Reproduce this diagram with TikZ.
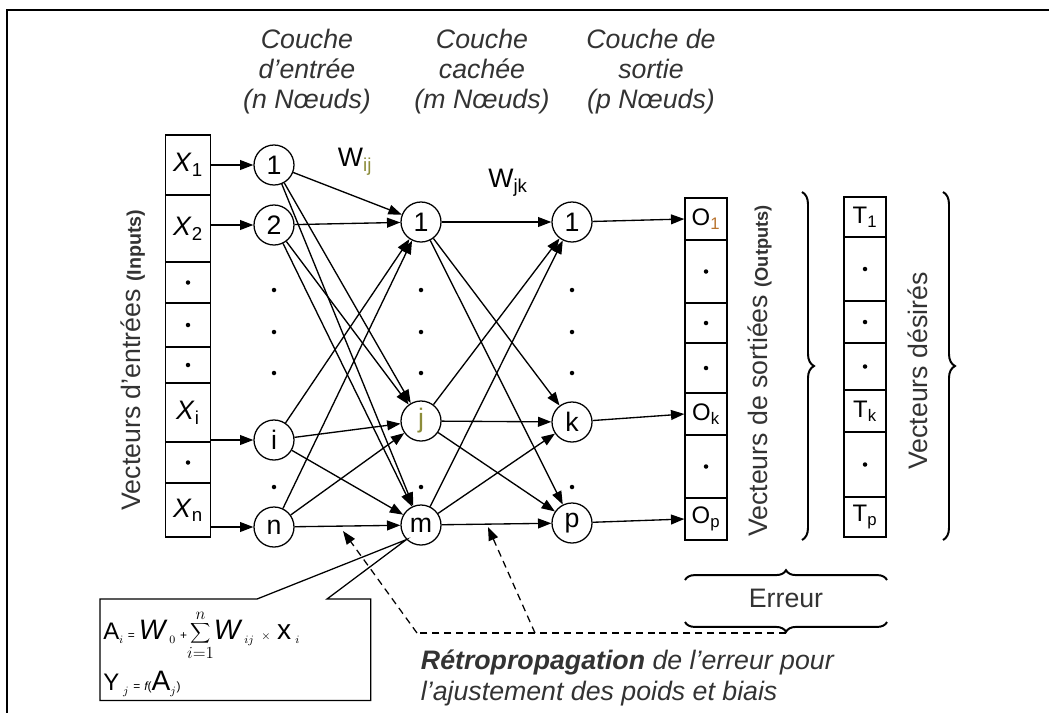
\documentclass[tikz,border=0pt]{standalone}
\usepackage{fontspec}
\setmainfont{Liberation Sans}
\usetikzlibrary{arrows.meta,positioning,calc,decorations.pathreplacing}
\definecolor{cHead}{HTML}{333333}
\definecolor{cOlive}{HTML}{8C8C3A}
\definecolor{cRust}{HTML}{B8732E}
\newcommand\bigfont{\fontsize{19}{22}\selectfont}
\newcommand\hdfont{\fontsize{19}{21.3}\selectfont}
\newcommand\cellfont{\fontsize{17}{20}\selectfont}
\newcommand\eqfont{\fontsize{17}{18}\selectfont}
\newcommand\eqbig[1]{{\fontsize{20}{20}\selectfont #1}}
\newcommand\eqsml[1]{{\fontsize{8.5}{9}\selectfont #1}}
\newcommand\eqsub[1]{$_{\scriptscriptstyle #1}$}
\tikzset{
  cell/.style={draw,line width=0.9pt,minimum width=#1,inner sep=0pt,font=\cellfont},
  neur/.style={circle,draw,line width=0.9pt,minimum size=1cm,inner sep=0pt,font=\bigfont},
  vdot/.style={circle,fill,inner sep=0pt,minimum size=3.2pt},
  arr/.style={-{Triangle[length=9.5pt,width=7pt]},line width=0.95pt},
  bdash/.style={line width=0.9pt,dash pattern=on 5pt off 3.5pt},
  hdr/.style={font=\hdfont\itshape,align=center,text=cHead},
  vlab/.style={rotate=90,font=\bigfont,text=cHead},
  brc/.style={decorate,decoration={brace,amplitude=#1},line width=1.4pt},
}

\begin{document}
\begin{tikzpicture}[x=0.025cm,y=-0.025cm]
  \useasboundingbox (0,0) rectangle (1049,713);
  % frame
  \draw[line width=1.6pt] (1049,10) -- (7,10) -- (7,713);

  % layer titles
  \node[hdr] (hIn) at (307,72) {Couche\\d’entrée\\(n Nœuds)};
  \node[hdr] (hHid) at (482,72) {Couche\\cachée\\(m Nœuds)};
  \node[hdr] (hOut) at (651,72) {Couche de\\sortie\\(p Nœuds)};

  % input vector
  \foreach \ya/\yb/\lab/\nm in {135/195/{\textit{X}\textsubscript{1}}/x1, 195/262/{\textit{X}\textsubscript{2}}/x2,
      262/303/{}/x3, 303/347/{}/x4, 347/383/{}/x5, 383/442/{\textit{X}\textsubscript{i}}/xi,
      442/483/{}/x7, 483/537/{\textit{X}\textsubscript{n}}/xn}
    \node[cell=1.125cm,font=\bigfont,minimum height={(\yb-\ya)*0.025cm}] (\nm) at (188,{(\ya+\yb)/2}) {\lab};
  % output vector
  \foreach \ya/\yb/\lab/\nm in {198/240/{O\textsubscript{\color{cRust}1}}/o1, 240/303/{}/o2, 303/343/{}/o3,
      343/393/{}/o4, 393/435/{O\textsubscript{k}}/ok, 435/498/{}/o6, 498/540/{O\textsubscript{p}}/op}
    \node[cell=1.05cm,minimum height={(\yb-\ya)*0.025cm}] (\nm) at (706,{(\ya+\yb)/2}) {\lab};
  % desired vector
  \foreach \ya/\yb/\lab/\nm in {197/237/{T\textsubscript{1}}/t1, 237/301/{}/t2, 301/343/{}/t3,
      343/390/{}/t4, 390/432/{T\textsubscript{k}}/tk, 432/497/{}/t6, 497/537/{T\textsubscript{p}}/tp}
    \node[cell=1.05cm,minimum height={(\yb-\ya)*0.025cm}] (\nm) at (865,{(\ya+\yb)/2}) {\lab};
  \foreach \c in {x3,x4,x5,x7,o2,o3,o4,o6,t2,t3,t4,t6}
    \node[vdot] (d\c) at (\c) {};

  % neurons
  \node[neur] (e1) at (274,165) {1};
  \node[neur] (e2) at (274,225) {2};
  \node[neur] (ei) at (274,440) {i};
  \node[neur] (en) at (274,527) {n};
  \node[neur] (h1) at (421,222) {1};
  \node[neur] (hj) at (421,421) {\color{cOlive}j};
  \node[neur] (hm) at (421,525) {m};
  \node[neur] (s1) at (572,222) {1};
  \node[neur] (sk) at (572,422) {k};
  \node[neur] (sp) at (572,523) {p};
  \foreach \xx in {274,421,572}
    \foreach \yy in {290,332,373,487}
      \node[vdot] (l\xx-\yy) at (\xx,\yy) {};

  % connections
  \foreach \c/\n in {x1/e1,x2/e2,xi/ei,xn/en}
    \draw[arr] (\n -| \c.east) -- (\n);
  \foreach \a in {e1,e2,ei,en}
    \foreach \b in {h1,hj,hm}
      \draw[arr] (\a) -- (\b);
  \foreach \a in {h1,hj,hm}
    \foreach \b in {s1,sk,sp}
      \draw[arr] (\a) -- (\b);
  \foreach \a/\b in {s1/o1,sk/ok,sp/op}
    \draw[arr] (\a) -- (\b.west);

  \node[font=\bigfont] (wij) at (355,162) {W\textsubscript{\color{cOlive}ij}};
  \node[font=\bigfont] (wjk) at (508,183) {W\textsubscript{jk}};

  % vertical labels and braces
  \node[vlab] (vIn) at (133,360) {Vecteurs d’entrées {\fontsize{14}{16}\selectfont\bfseries (Inputs)}};
  \node[vlab] (vOut) at (760,371) {Vecteurs de sortiées {\fontsize{13}{15}\selectfont\bfseries (Outputs)}};
  \node[vlab] (vDes) at (918,371) {Vecteurs désirés};
  \draw[brc=8.5pt] (802,192) -- (802,540);
  \draw[brc=8.5pt] (943,192) -- (943,540);

  % error
  \draw[brc=7pt] (685,580) -- (887,580);
  \draw[brc=7pt] (887,622) -- (685,622);
  \node[font=\bigfont,text=cHead] (err) at (786,598) {Erreur};
  \coordinate (errtip) at (786,633);

  % backpropagation
  \coordinate (bpA) at (417,633);
  \coordinate (bpB) at (535,633);
  \coordinate (bp1) at (343,531);
  \coordinate (bp2) at (488,527);
  \draw[bdash] (errtip) -- (bpA);
  \draw[arr,bdash] (bpA) -- (bp1);
  \draw[arr,bdash] (bpB) -- (bp2);
  \node[anchor=north west,font=\bigfont\itshape,align=left,text=cHead] (retro) at (416,645)
    {\textbf{Rétropropagation} de l’erreur pour\\l’ajustement des poids et biais};

  % neuron formula
  \node[anchor=north west,minimum width=6.75cm,minimum height=2.525cm,inner sep=0pt] (fbox) at (100,599) {};
  \draw[line width=0.9pt] (fbox.north west) -- ($(fbox.north west)+(157,0)$) -- (hm.225)
    -- ($(fbox.north west)+(227,0)$) -- (fbox.north east) -- (fbox.south east) -- (fbox.south west) -- cycle;
  \node[anchor=west,font=\eqfont,inner sep=0pt] (eqA) at (103,635)
    {A\eqsub{i}\,\eqsml{=}\,\eqbig{\itshape W}\,\eqsub{0}\,\eqsml{+}$\displaystyle\sum_{i=1}^{n}$\eqbig{\itshape W}\,\eqsub{ij}\;\eqsml{$\times$}\;\eqbig{x}\,\eqsub{i}};
  \node[anchor=west,font=\eqfont,inner sep=0pt] (eqY) at (103,684)
    {Y\,\eqsub{j}\,\eqsml{=}\,\eqsml{\itshape f}\eqsml{(}\eqbig{A}\eqsub{j}\eqsml{)}};
\end{tikzpicture}
\end{document}
